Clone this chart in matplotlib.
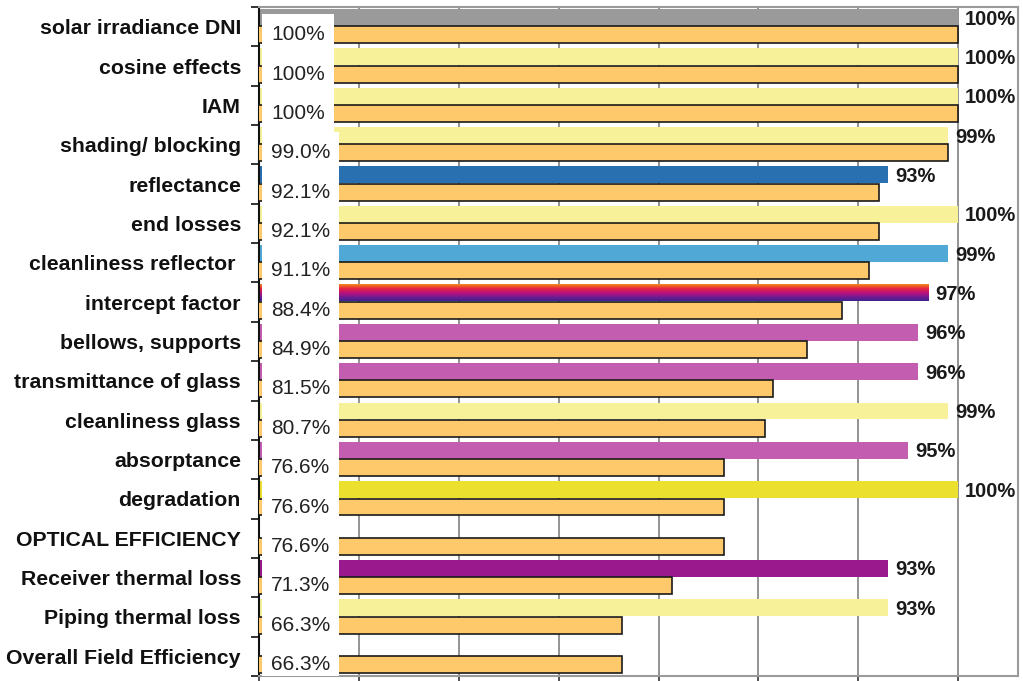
import numpy as np
import matplotlib
matplotlib.use("Agg")
import matplotlib.pyplot as plt
from matplotlib.colors import LinearSegmentedColormap
from matplotlib.patches import Rectangle

plt.rcParams['font.family'] = ['Liberation Sans', 'DejaVu Sans']

categories = ["solar irradiance DNI", "cosine effects", "IAM", "shading/ blocking",
              "reflectance", "end losses", "cleanliness reflector ", "intercept factor",
              "bellows, supports", "transmittance of glass", "cleanliness glass",
              "absorptance", "degradation", "OPTICAL EFFICIENCY", "Receiver thermal loss",
              "Piping thermal loss", "Overall Field Efficiency"]
# factor of each step (top bar), nan where there is no factor
factor = [100, 100, 100, 99, 93, 100, 99, 97, 96, 96, 99, 95, 100, np.nan, 93, 93, np.nan]
# cumulative efficiency after each step (bottom bar)
cumulative = [100, 100, 100, 99.0, 92.1, 92.1, 91.1, 88.4, 84.9, 81.5, 80.7,
              76.6, 76.6, 76.6, 71.3, 66.3, 66.3]
factor_colors = ["#9a9a9a", "#f7f29a", "#f7f29a", "#f7f29a", "#2870b0", "#f7f29a",
                 "#4fa8d6", None, "#c25db0", "#c25db0", "#f7f29a", "#c25db0",
                 "#ebe02e", None, "#9a1a8e", "#f7f29a", None]
gradient_row = 7  # intercept factor drawn with a gradient fill

grad_cmap = LinearSegmentedColormap.from_list(
    "intercept", ["#f28a1e", "#e8283c", "#c0107a", "#7a1a92", "#3c2390"])

fig = plt.figure(figsize=(10.23, 6.81), dpi=100)
ax = fig.add_axes([0.2532, 0.0073, 0.742, 0.9824])

y = np.arange(len(categories))
h = 0.43
y_top = y - 0.235
y_bot = y + 0.205

for i in range(len(categories)):
    if np.isnan(factor[i]):
        continue
    if i == gradient_row:
        grad = np.linspace(0, 1, 64).reshape(-1, 1)
        ax.imshow(grad, cmap=grad_cmap, aspect="auto", origin="upper",
                  extent=(0, factor[i], y_top[i] + h / 2, y_top[i] - h / 2),
                  zorder=2)
    else:
        ax.barh(y_top[i], factor[i], height=h, color=factor_colors[i], zorder=2)
    ax.annotate(f"{factor[i]:.0f}%", (factor[i], y_top[i] + 0.04),
                xytext=(5, 0), textcoords="offset points", ha="left", va="center",
                fontsize=14.5, fontweight="bold", color="#1a1a1a",
                annotation_clip=False, zorder=6)

ax.barh(y_bot, cumulative, height=h, color="#fdc96a", edgecolor="#1a1a1a",
        linewidth=1.2, zorder=3)

ax.set_xlim(30, 106)
ax.set_ylim(16.5, -0.46)
ax.set_xticks(np.arange(30, 101, 10))
ax.set_xticklabels([])
ax.tick_params(axis="x", direction="out", length=5, width=1.2, colors="#333333")
ax.xaxis.grid(True, color="#808080", linewidth=1.2, zorder=0)
ax.set_axisbelow(True)

ax.set_yticks(y)
ax.set_yticklabels(categories, fontsize=15.3, fontweight="bold", color="#111111")
ax.tick_params(axis="y", which="major", length=0, pad=13)
ax.set_yticks(np.arange(-0.5, len(categories), 1), minor=True)
ax.tick_params(axis="y", which="minor", direction="out", length=6, width=1.2,
               color="#111111")

for side in ["top", "right", "bottom"]:
    ax.spines[side].set_color("#9a9a9a")
    ax.spines[side].set_linewidth(1.5)
ax.spines["left"].set_color("#111111")
ax.spines["left"].set_linewidth(1.5)

# cumulative value labels sit on white boxes that hide the start of the bars
labels = []
for i, v in enumerate(cumulative):
    txt = f"{v:.0f}%" if v == 100 else f"{v:.1f}%"
    labels.append(ax.text(31.2, y_bot[i], txt, ha="left", va="center",
                          fontsize=15, color="#222222", zorder=5))

fig.canvas.draw()
renderer = fig.canvas.get_renderer()
inv = ax.transData.inverted()
for t in labels:
    bb = t.get_window_extent(renderer)
    yc = (bb.y0 + bb.y1) / 2
    (x0, y0), (x1, y1) = inv.transform([(bb.x0 - 9, yc - 21), (bb.x1 + 9, yc + 21)])
    ax.add_patch(Rectangle((x0, y0), x1 - x0, y1 - y0, facecolor="white",
                           edgecolor="none", zorder=4))

fig.savefig("out.png", dpi=100)
